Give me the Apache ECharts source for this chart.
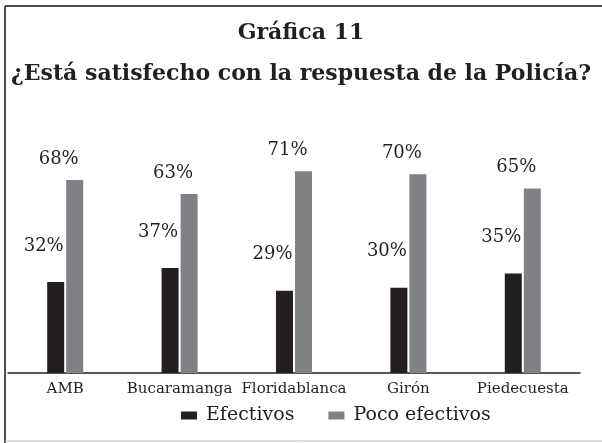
<!DOCTYPE html>
<html>
<head>
<meta charset="utf-8">
<script src="https://cdn.jsdelivr.net/npm/echarts@6/dist/echarts.min.js"></script>
<style>
  html, body { margin: 0; padding: 0; background: #fff; }
  #chart { width: 602px; height: 443px; }
</style>
</head>
<body>
<div id="chart"></div>
<script>
// data
const categories = ['AMB', 'Bucaramanga', 'Floridablanca', 'Girón', 'Piedecuesta'];
const efectivos = [32, 37, 29, 30, 35];
const pocoEfectivos = [68, 63, 71, 70, 65];
const seriesNames = ['Efectivos', 'Poco efectivos'];

const serif = '"DejaVu Serif", "Liberation Serif", serif';
const ink = '#231f20';

let chart = echarts.init(document.getElementById('chart'));
chart.setOption({
    animation: false,
    title: [
        {
            text: 'Gráfica 11',
            left: 'center',
            top: 17,
            textStyle: { fontFamily: serif, fontSize: 22, fontWeight: 'bold', color: ink }
        },
        {
            text: '¿Está satisfecho con la respuesta de la Policía?',
            left: 'center',
            top: 58,
            textStyle: { fontFamily: serif, fontSize: 22, fontWeight: 'bold', color: ink }
        }
    ],
    legend: {
        bottom: 13,
        left: 176,
        itemWidth: 16,
        itemHeight: 8,
        itemGap: 34,
        icon: 'rect',
        textStyle: { fontFamily: serif, fontSize: 19, color: ink, padding: [0, 0, 0, 4] },
        data: seriesNames
    },
    grid: {
        left: 8,
        right: 22,
        top: 89,
        bottom: 70
    },
    xAxis: {
        type: 'category',
        data: categories,
        axisLine: { lineStyle: { color: ink, width: 1.5 } },
        axisTick: { show: false },
        axisLabel: { interval: 0, fontFamily: serif, fontSize: 15, color: ink, margin: 9 }
    },
    yAxis: {
        type: 'value',
        min: 0,
        max: 100,
        show: false
    },
    series: [
        {
            name: seriesNames[0],
            type: 'bar',
            data: efectivos,
            barWidth: 17,
            barGap: '12%',
            itemStyle: { color: ink },
            label: {
                show: true,
                position: 'top',
                distance: 27,
                offset: [-12, 0],
                formatter: '{c}%',
                fontFamily: serif,
                fontSize: 18,
                color: ink
            }
        },
        {
            name: seriesNames[1],
            type: 'bar',
            data: pocoEfectivos,
            barWidth: 17,
            itemStyle: { color: '#808184' },
            label: {
                show: true,
                position: 'top',
                distance: 12,
                offset: [-16, 0],
                formatter: '{c}%',
                fontFamily: serif,
                fontSize: 18,
                color: ink
            }
        }
    ],
    graphic: [
        { type: 'line', shape: { x1: 5, y1: 6, x2: 602, y2: 6 }, style: { stroke: '#4d4d4f', lineWidth: 2 } },
        { type: 'line', shape: { x1: 5, y1: 6, x2: 5, y2: 443 }, style: { stroke: '#4d4d4f', lineWidth: 2 } },
        { type: 'line', shape: { x1: 5, y1: 441, x2: 602, y2: 441 }, style: { stroke: '#bcbec0', lineWidth: 1 } }
    ]
});
</script>
</body>
</html>
